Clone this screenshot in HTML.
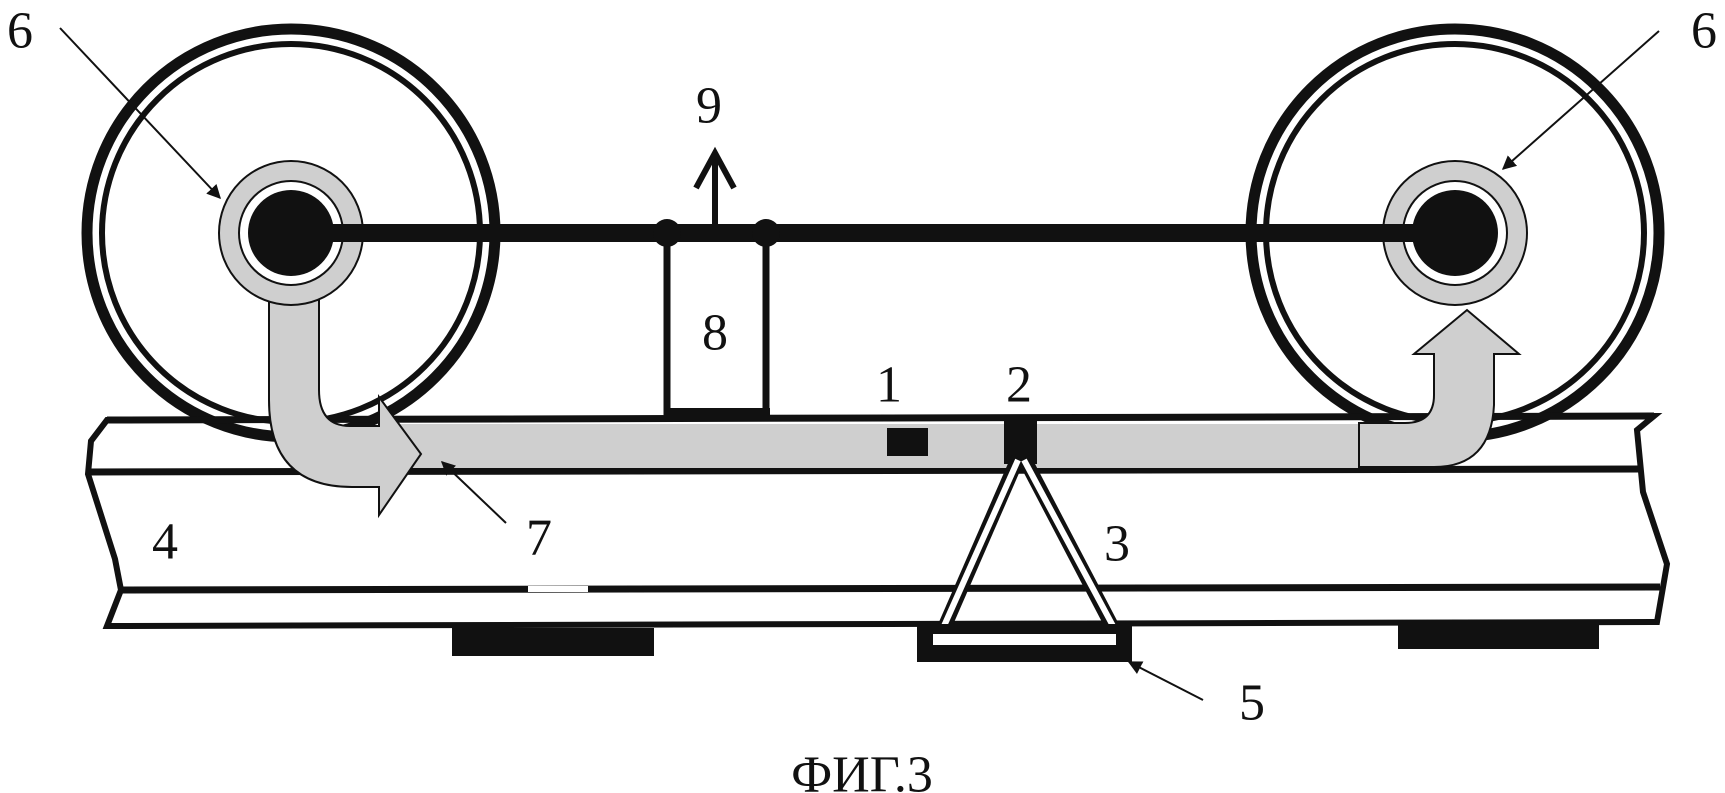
<!DOCTYPE html>
<html><head><meta charset="utf-8"><style>
html,body{margin:0;padding:0;background:#fff;}
svg{display:block;}
text{font-family:"Liberation Serif","DejaVu Serif",serif;font-size:52px;fill:#111;text-anchor:middle;dominant-baseline:central;}
</style></head><body>
<svg width="1725" height="793" viewBox="0 0 1725 793" xmlns="http://www.w3.org/2000/svg">
<defs>
<marker id="ah" viewBox="0 0 10 10" refX="9" refY="5" markerWidth="7" markerHeight="7" orient="auto"><path d="M0,0 L10,5 L0,10 z" fill="#111"/></marker>
</defs>
<!-- rail -->
<path d="M107,420 L1654,416 L1637,430 L1643,492 L1667,564 L1657,622 L107,626 L121,590 L115,559 L88,474 L91,441 Z" fill="#fff" stroke="#111" stroke-width="6"/>
<line x1="88" y1="472" x2="1643" y2="469" stroke="#111" stroke-width="7"/>
<line x1="118" y1="590" x2="1660" y2="587" stroke="#111" stroke-width="7"/>
<rect x="528" y="586" width="60" height="6" fill="#fff"/>
<!-- ties -->
<rect x="452" y="628" width="202" height="28" fill="#111"/>
<rect x="1398" y="624" width="201" height="25" fill="#111"/>
<!-- wheels -->
<g fill="none" stroke="#111">
<circle cx="291" cy="233" r="204" stroke-width="11"/>
<circle cx="291" cy="233" r="189" stroke-width="6"/>
<circle cx="1455" cy="233" r="204" stroke-width="11"/>
<circle cx="1455" cy="233" r="189" stroke-width="6"/>
</g>
<!-- gray band -->
<rect x="400" y="424" width="965" height="44" fill="#cfcfcf"/>
<line x1="107" y1="420" x2="1654" y2="416" stroke="#111" stroke-width="7"/>
<!-- left gray arrow -->
<path d="M269,300 L269,400 Q269,487 352,487 L379,487 L379,515 L421,454 L379,397 L379,426 L350,426 Q319,426 319,390 L319,300 Z" fill="#cfcfcf" stroke="#111" stroke-width="2"/>
<!-- right gray arrow -->
<path d="M1359,423 L1405,423 Q1434,423 1434,395 L1434,354 L1414,354 L1467,310 L1519,354 L1494,354 L1494,405 Q1491,467 1434,467 L1359,467 Z" fill="#cfcfcf" stroke="#111" stroke-width="2"/>
<line x1="1359" y1="423" x2="1359" y2="467" stroke="#111" stroke-width="2"/>
<!-- hubs -->
<g>
<circle cx="291" cy="233" r="72" fill="#cfcfcf" stroke="#111" stroke-width="2"/>
<circle cx="291" cy="233" r="52" fill="#fff" stroke="#111" stroke-width="2"/>
<circle cx="291" cy="233" r="43" fill="#111"/>
<circle cx="1455" cy="233" r="72" fill="#cfcfcf" stroke="#111" stroke-width="2"/>
<circle cx="1455" cy="233" r="52" fill="#fff" stroke="#111" stroke-width="2"/>
<circle cx="1455" cy="233" r="43" fill="#111"/>
</g>
<!-- axle -->
<rect x="291" y="224" width="1164" height="18" fill="#111"/>
<!-- box 8 -->
<line x1="667" y1="233" x2="667" y2="415" stroke="#111" stroke-width="7"/>
<line x1="766" y1="233" x2="766" y2="415" stroke="#111" stroke-width="7"/>
<rect x="664" y="408" width="106" height="12" fill="#111"/>
<circle cx="667" cy="233" r="14" fill="#111"/>
<circle cx="766" cy="233" r="14" fill="#111"/>
<!-- arrow 9 -->
<line x1="715" y1="228" x2="715" y2="155" stroke="#111" stroke-width="6"/>
<polyline points="696,188 715,153 734,188" fill="none" stroke="#111" stroke-width="6"/>
<!-- blocks 1,2 -->
<rect x="887" y="428" width="41" height="28" fill="#111"/>
<rect x="1004" y="420" width="33" height="44" fill="#111"/>
<!-- triangle 3 -->
<g stroke="#111" stroke-width="14" stroke-linecap="butt">
<line x1="1018" y1="458" x2="944" y2="628"/>
<line x1="1024" y1="458" x2="1113" y2="628"/>
</g>
<g stroke="#fff" stroke-width="6">
<line x1="1018" y1="460" x2="944" y2="626"/>
<line x1="1024" y1="460" x2="1113" y2="626"/>
</g>
<!-- pad 5 -->
<rect x="917" y="624" width="215" height="38" fill="#111"/>
<rect x="933" y="634" width="183" height="11" fill="#fff"/>
<!-- leaders -->
<g stroke="#111" stroke-width="2" fill="none">
<line x1="60" y1="28" x2="220" y2="198" marker-end="url(#ah)"/>
<line x1="1659" y1="31" x2="1503" y2="169" marker-end="url(#ah)"/>
<line x1="506" y1="523" x2="442" y2="462" marker-end="url(#ah)"/>
<line x1="1203" y1="700" x2="1129" y2="662" marker-end="url(#ah)"/>
</g>
<!-- labels -->
<text x="20" y="31">6</text>
<text x="1704" y="31">6</text>
<text x="709" y="106">9</text>
<text x="715" y="333">8</text>
<text x="889" y="385">1</text>
<text x="1019" y="385">2</text>
<text x="1117" y="544">3</text>
<text x="165" y="542">4</text>
<text x="539" y="538">7</text>
<text x="1252" y="703">5</text>
<text x="862" y="775">ФИГ.3</text>
</svg>
</body></html>
